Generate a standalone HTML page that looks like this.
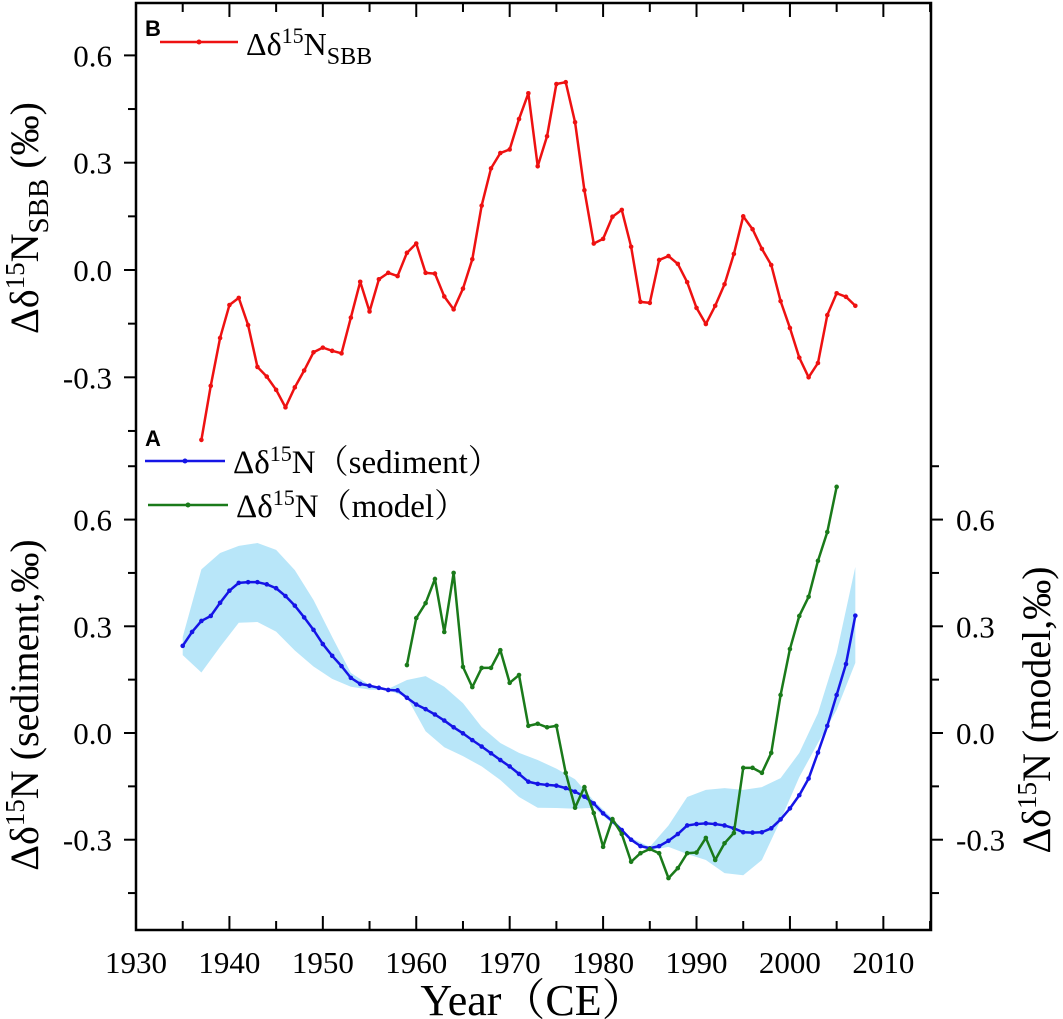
<!DOCTYPE html>
<html><head><meta charset="utf-8"><style>
html,body{margin:0;padding:0;background:#fff;}
svg{display:block;font-family:"Liberation Serif","Noto Serif CJK SC",serif;}
</style></head><body>
<svg id="chart" width="1063" height="1019" viewBox="0 0 1063 1019" xmlns="http://www.w3.org/2000/svg">
<g id="band"></g>
<g id="series"></g>
<g id="axes"></g>
<text x="145" y="36" font-family="Liberation Sans, sans-serif" font-weight="bold" font-size="22">B</text>
<text x="145" y="446" font-family="Liberation Sans, sans-serif" font-weight="bold" font-size="22">A</text>
<g>
<line x1="160" y1="42" x2="238" y2="42" stroke="#ee1111" stroke-width="2.5"/><circle cx="199" cy="42" r="2.5" fill="#ee1111"/>
<text x="246" y="55" font-size="32">Δδ<tspan dy="-12" font-size="22">15</tspan><tspan dy="12">N</tspan><tspan dy="9" font-size="24">SBB</tspan></text>
</g>
<g>
<line x1="145" y1="461" x2="225" y2="461" stroke="#1515e6" stroke-width="2.5"/><circle cx="185" cy="461" r="2.5" fill="#1515e6"/>
<text x="233" y="473" font-size="33">Δδ<tspan dy="-12" font-size="22">15</tspan><tspan dy="12">N（sediment）</tspan></text>
</g>
<g>
<line x1="148" y1="505" x2="228" y2="505" stroke="#1a7a1a" stroke-width="2.5"/><circle cx="188" cy="505" r="2.5" fill="#1a7a1a"/>
<text x="236" y="517" font-size="33">Δδ<tspan dy="-12" font-size="22">15</tspan><tspan dy="12">N（model）</tspan></text>
</g>
<text transform="translate(38,218) rotate(-90)" text-anchor="middle" font-size="40">Δδ<tspan dy="-14" font-size="27">15</tspan><tspan dy="14">N</tspan><tspan dy="10" font-size="29">SBB</tspan><tspan dy="-10"> (‰)</tspan></text>
<text transform="translate(38,705) rotate(-90)" text-anchor="middle" font-size="40">Δδ<tspan dy="-14" font-size="27">15</tspan><tspan dy="14">N (sediment,‰)</tspan></text>
<text transform="translate(1050,710) rotate(-90)" text-anchor="middle" font-size="40">Δδ<tspan dy="-14" font-size="27">15</tspan><tspan dy="14">N (model,‰)</tspan></text>
<text x="533" y="1015" text-anchor="middle" font-size="44">Year（CE）</text>
</svg>
<script>
const sbbYears=[1937,1938,1939,1940,1941,1942,1943,1944,1945,1946,1947,1948,1949,1950,1951,1952,1953,1954,1955,1956,1957,1958,1959,1960,1961,1962,1963,1964,1965,1966,1967,1968,1969,1970,1971,1972,1973,1974,1975,1976,1977,1978,1979,1980,1981,1982,1983,1984,1985,1986,1987,1988,1989,1990,1991,1992,1993,1994,1995,1996,1997,1998,1999,2000,2001,2002,2003,2004,2005,2006,2007];
const sbbValues=[-0.475,-0.324,-0.19,-0.098,-0.078,-0.154,-0.271,-0.298,-0.335,-0.384,-0.328,-0.281,-0.23,-0.217,-0.226,-0.233,-0.133,-0.033,-0.116,-0.026,-0.008,-0.017,0.048,0.074,-0.008,-0.01,-0.074,-0.11,-0.052,0.03,0.18,0.284,0.327,0.337,0.422,0.494,0.29,0.374,0.52,0.525,0.413,0.223,0.074,0.087,0.149,0.168,0.065,-0.089,-0.092,0.028,0.039,0.017,-0.034,-0.106,-0.151,-0.1,-0.04,0.045,0.15,0.114,0.059,0.014,-0.087,-0.162,-0.245,-0.3,-0.26,-0.126,-0.065,-0.075,-0.1];
const sedYears=[1935,1936,1937,1938,1939,1940,1941,1942,1943,1944,1945,1946,1947,1948,1949,1950,1951,1952,1953,1954,1955,1956,1957,1958,1959,1960,1961,1962,1963,1964,1965,1966,1967,1968,1969,1970,1971,1972,1973,1974,1975,1976,1977,1978,1979,1980,1981,1982,1983,1984,1985,1986,1987,1988,1989,1990,1991,1992,1993,1994,1995,1996,1997,1998,1999,2000,2001,2002,2003,2004,2005,2006,2007];
const sedValues=[0.245,0.284,0.315,0.329,0.366,0.4,0.422,0.424,0.424,0.418,0.407,0.385,0.358,0.325,0.29,0.25,0.217,0.188,0.155,0.138,0.133,0.127,0.121,0.12,0.099,0.08,0.067,0.052,0.035,0.016,-0.001,-0.02,-0.038,-0.057,-0.076,-0.094,-0.115,-0.137,-0.143,-0.146,-0.148,-0.155,-0.165,-0.179,-0.198,-0.226,-0.248,-0.273,-0.3,-0.318,-0.324,-0.318,-0.303,-0.284,-0.26,-0.256,-0.254,-0.256,-0.26,-0.268,-0.279,-0.28,-0.279,-0.268,-0.243,-0.212,-0.175,-0.128,-0.055,0.02,0.107,0.194,0.33];
const bandYears=[1935,1937,1939,1941,1943,1945,1947,1949,1951,1953,1955,1957,1959,1961,1963,1965,1967,1969,1971,1973,1975,1977,1979,1981,1983,1985,1987,1989,1991,1993,1995,1997,1999,2001,2003,2005,2007];
const bandUpper=[0.27,0.46,0.506,0.526,0.534,0.515,0.458,0.374,0.27,0.169,0.135,0.124,0.149,0.16,0.13,0.084,0.017,-0.028,-0.056,-0.076,-0.1,-0.13,-0.19,-0.24,-0.295,-0.32,-0.26,-0.18,-0.16,-0.155,-0.16,-0.152,-0.127,-0.056,0.056,0.225,0.467];
const bandLower=[0.219,0.17,0.242,0.31,0.312,0.285,0.232,0.187,0.152,0.13,0.122,0.121,0.1,0.005,-0.04,-0.065,-0.094,-0.132,-0.18,-0.21,-0.211,-0.213,-0.21,-0.255,-0.305,-0.33,-0.32,-0.34,-0.357,-0.394,-0.4,-0.357,-0.245,-0.124,-0.028,0.065,0.197];
const modelYears=[1959,1960,1961,1962,1963,1964,1965,1966,1967,1968,1969,1970,1971,1972,1973,1974,1975,1976,1977,1978,1979,1980,1981,1982,1983,1984,1985,1986,1987,1988,1989,1990,1991,1992,1993,1994,1995,1996,1997,1998,1999,2000,2001,2002,2003,2004,2005];
const modelValues=[0.191,0.323,0.365,0.433,0.284,0.45,0.186,0.129,0.183,0.183,0.233,0.141,0.163,0.02,0.026,0.016,0.02,-0.112,-0.21,-0.152,-0.225,-0.32,-0.242,-0.284,-0.362,-0.338,-0.326,-0.338,-0.408,-0.38,-0.338,-0.336,-0.295,-0.357,-0.31,-0.281,-0.098,-0.098,-0.112,-0.056,0.107,0.236,0.329,0.383,0.484,0.565,0.692];
const xTicks=[1930,1940,1950,1960,1970,1980,1990,2000,2010];
const yTicksTop=["0.6","0.3","0.0","-0.3"];
const yTicksBottom=["0.6","0.3","0.0","-0.3"];

const NS="http://www.w3.org/2000/svg";
const L=136,R=931,T=3,B=930;
const X=y=>L+(y-1930)*(R-L)/85.1;
const YB=v=>270-v*357.7;
const YA=v=>733-v*355.7;
const YM=v=>733-v*355.7;
function mk(tag,attrs,parent){const e=document.createElementNS(NS,tag);for(const k in attrs)e.setAttribute(k,attrs[k]);parent.appendChild(e);return e;}
const band=document.getElementById('band');
const series=document.getElementById('series');
const axes=document.getElementById('axes');

let bp=bandYears.map((y,i)=>X(y)+','+YA(bandUpper[i]));
for(let i=bandYears.length-1;i>=0;i--)bp.push(X(bandYears[i])+','+YA(bandLower[i]));
const poly=mk('polygon',{points:bp.join(' '),fill:'#b8e6f9',stroke:'none'},band);



function drawSeries(xs,vs,yf,color,name){
  const g=mk('g',{},series);
  
  
  mk('polyline',{points:xs.map((y,i)=>X(y)+','+yf(vs[i])).join(' '),fill:'none',stroke:color,'stroke-width':2.5,'stroke-linejoin':'round'},g);
  xs.forEach((y,i)=>{const c=mk('circle',{cx:X(y),cy:yf(vs[i]),r:2.3,fill:color},g);
    
    });
}
drawSeries(sbbYears,sbbValues,YB,'#ee1111','sbb-series');
drawSeries(sedYears,sedValues,YA,'#1515e6','sediment-series');
drawSeries(modelYears,modelValues,YM,'#1a7a1a','model-series');

mk('rect',{x:L,y:T,width:R-L,height:B-T,fill:'none',stroke:'#000','stroke-width':2.5},axes);
for(let y=1930;y<=2015;y+=5){
  const major=y%10===0;const len=major?14:9;
  mk('line',{x1:X(y),x2:X(y),y1:B,y2:B-len,stroke:'#000','stroke-width':2},axes);
  mk('line',{x1:X(y),x2:X(y),y1:T,y2:T+len,stroke:'#000','stroke-width':2},axes);
}
xTicks.forEach(y=>{const t=mk('text',{x:X(y),y:973,'text-anchor':'middle','font-size':31},axes);t.textContent=y;
  
  });
for(let v=0.6;v>=-0.46;v-=0.15){const y=YB(v);const major=Math.abs(Math.round(v*100))%30===0;
  mk('line',{x1:L,x2:L-(major?12:8),y1:y,y2:y,stroke:'#000','stroke-width':2},axes);}
yTicksTop.forEach(s=>{const t=mk('text',{x:112,y:YB(parseFloat(s))+11,'text-anchor':'end','font-size':31},axes);t.textContent=s;
  
  });
for(let v=0.75;v>=-0.46;v-=0.15){const y=YA(v);const major=Math.abs(Math.round(v*100))%30===0;
  mk('line',{x1:L,x2:L-(major?12:8),y1:y,y2:y,stroke:'#000','stroke-width':2},axes);
  mk('line',{x1:R,x2:R+(major?12:8),y1:y,y2:y,stroke:'#000','stroke-width':2},axes);}
yTicksBottom.forEach(s=>{const t=mk('text',{x:112,y:YA(parseFloat(s))+11,'text-anchor':'end','font-size':31},axes);t.textContent=s;
  
  
  const t2=mk('text',{x:956,y:YM(parseFloat(s))+11,'font-size':31},axes);t2.textContent=s;
  
  });
</script>
</body></html>
